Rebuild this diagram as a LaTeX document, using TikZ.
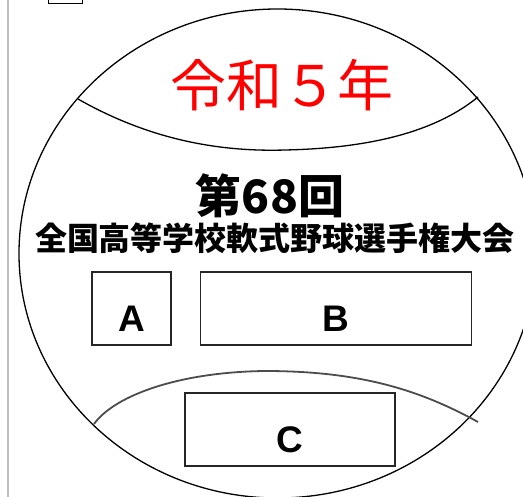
\documentclass[tikz,border=0pt]{standalone}
\usepackage{fontspec}
\setsansfont{Liberation Sans}
\newfontfamily\jpfont{Noto Sans CJK JP}
\usetikzlibrary{positioning}
\tikzstyle{field} = [rectangle, draw=black!85, line width=1.2pt, minimum height=73pt, inner sep=0pt, text height=50pt, text depth=4pt, font=\sffamily\bfseries\fontsize{37}{37}\selectfont]
\tikzstyle{heading} = [inner sep=0pt, font=\jpfont\bfseries]
\tikzstyle{rim} = [line width=1.3pt, black]
\tikzstyle{seam} = [line width=1.3pt, black]

\begin{document}
\begin{tikzpicture}[x=1pt, y=-1pt]

\clip (0,0) rectangle (523,497);
\fill [white] (0,0) rectangle (523,497);
\draw [line width=2pt, black!25] (7.5,0) -- (7.5,497);
\draw [line width=1pt] (48,-5) rectangle (82,3.5);

% ball and seams
\draw [rim] (277.5,253.5) ellipse [x radius=258.5, y radius=244.5];
\draw [seam] (78,99) .. controls (150,140) and (220,152) .. (285,150) .. controls (380,148) and (440,128) .. (478,97);
\draw [seam, line width=1.8pt, black!70] (94,424) .. controls (115,395) and (180,372) .. (265,371) .. controls (360,371) and (420,390) .. (478,422);

\node (era) [heading, text=red, font=\jpfont\fontsize{56}{56}\selectfont] at (282,85) {令和５年};
\node (count) [heading, font=\jpfont\bfseries\fontsize{46}{46}\selectfont] at (270,196) {第68回};
\node (meet) [heading, font=\jpfont\bfseries\fontsize{32}{32}\selectfont] at (275,238) {全国高等学校軟式野球選手権大会};

\node (A) [field, minimum width=79pt] at (131.5,308.5) {A};
\node (B) [field, minimum width=271pt, right=28pt of A] {B};
\node (C) [field, minimum width=210pt] at (290,429.5) {C};

\end{tikzpicture}
\end{document}
